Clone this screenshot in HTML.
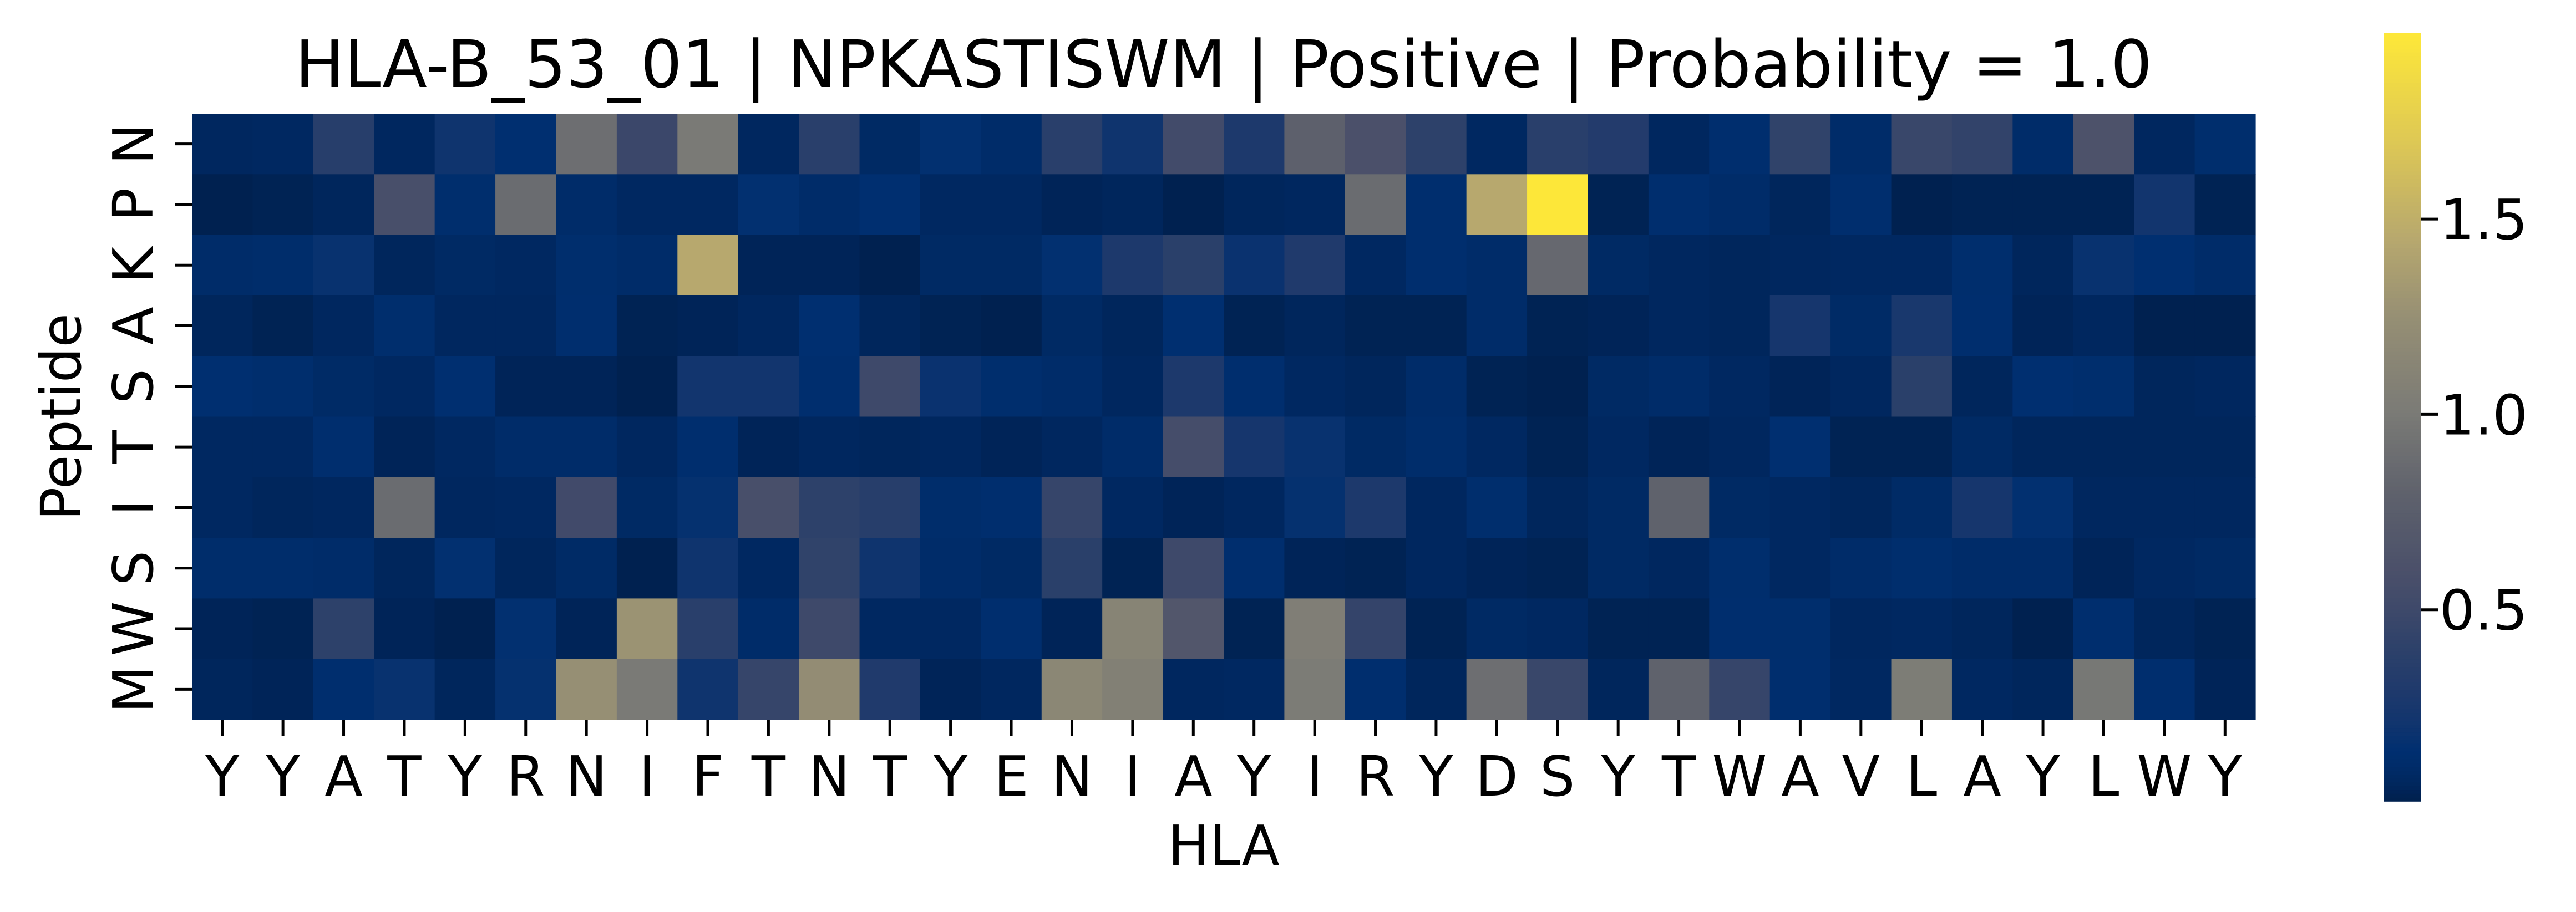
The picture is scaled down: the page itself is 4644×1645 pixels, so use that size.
<!DOCTYPE html>
<html><head><meta charset="utf-8"><style>
html,body{margin:0;padding:0;background:#fff;}
svg{display:block;font-family:"DejaVu Sans","Liberation Sans",sans-serif;}
</style></head><body>
<svg id="chart" width="4644" height="1645" viewBox="0 0 4644 1645" xmlns="http://www.w3.org/2000/svg">
<rect x="0" y="0" width="4644" height="1645" fill="#fff"/>
<text x="2206" y="157" font-size="118" text-anchor="middle" fill="#000">HLA-B_53_01 | NPKASTISWM | Positive | Probability = 1.0</text>
<text x="2206" y="1560" font-size="100" text-anchor="middle" fill="#000">HLA</text>
<text x="0" y="0" font-size="100" text-anchor="middle" fill="#000" transform="translate(145,752) rotate(-90)">Peptide</text>
<g id="cells"></g>
<g id="xticks"></g>
<g id="yticks"></g>
<g id="cbar"></g>
</svg>
<script>
const xLabels = ["Y","Y","A","T","Y","R","N","I","F","T","N","T","Y","E","N","I","A","Y","I","R","Y","D","S","Y","T","W","A","V","L","A","Y","L","W","Y"];
const yLabels = ["N","P","K","A","S","T","I","S","W","M"];
const cbTicks = [0.5, 1.0, 1.5];
const cbTickLabels = ["0.5", "1.0", "1.5"];
const rowN = [0.06,0.07,0.35,0.06,0.2,0.14,0.9,0.48,1.0,0.06,0.37,0.08,0.15,0.1,0.37,0.2,0.53,0.28,0.78,0.6,0.4,0.07,0.37,0.32,0.06,0.13,0.42,0.1,0.47,0.43,0.1,0.62,0.06,0.12];
const rowP = [0.02,0.03,0.05,0.58,0.12,0.88,0.1,0.07,0.07,0.15,0.1,0.14,0.07,0.07,0.04,0.05,0.02,0.05,0.06,0.88,0.13,1.45,1.97,0.03,0.13,0.1,0.05,0.13,0.02,0.03,0.03,0.03,0.22,0.03];
const rowK = [0.1,0.11,0.17,0.05,0.08,0.07,0.12,0.1,1.45,0.04,0.04,0.02,0.08,0.08,0.15,0.28,0.38,0.18,0.3,0.07,0.13,0.1,0.85,0.08,0.06,0.05,0.06,0.07,0.07,0.12,0.05,0.17,0.14,0.1];
const rowA = [0.05,0.03,0.06,0.12,0.06,0.06,0.13,0.03,0.04,0.06,0.14,0.05,0.03,0.02,0.08,0.05,0.14,0.03,0.05,0.03,0.03,0.1,0.03,0.04,0.06,0.05,0.24,0.09,0.26,0.13,0.04,0.06,0.02,0.02];
const rowS1 = [0.14,0.12,0.09,0.07,0.14,0.04,0.04,0.02,0.22,0.22,0.13,0.5,0.18,0.12,0.1,0.06,0.28,0.13,0.07,0.05,0.1,0.03,0.02,0.08,0.1,0.07,0.04,0.06,0.38,0.05,0.14,0.12,0.05,0.06];
const rowT = [0.07,0.07,0.13,0.04,0.07,0.1,0.1,0.06,0.13,0.04,0.06,0.05,0.06,0.04,0.06,0.1,0.55,0.24,0.17,0.08,0.11,0.07,0.03,0.07,0.04,0.06,0.14,0.03,0.03,0.08,0.05,0.05,0.05,0.05];
const rowI = [0.07,0.05,0.06,0.88,0.06,0.07,0.52,0.08,0.16,0.58,0.4,0.35,0.11,0.13,0.45,0.07,0.04,0.06,0.16,0.28,0.06,0.12,0.05,0.08,0.8,0.08,0.07,0.05,0.09,0.24,0.15,0.06,0.06,0.06];
const rowS2 = [0.11,0.11,0.1,0.05,0.15,0.05,0.09,0.02,0.2,0.07,0.42,0.2,0.1,0.08,0.38,0.03,0.5,0.13,0.04,0.03,0.06,0.04,0.03,0.08,0.06,0.12,0.07,0.1,0.12,0.1,0.1,0.04,0.07,0.08];
const rowW = [0.04,0.03,0.4,0.04,0.02,0.15,0.04,1.28,0.37,0.1,0.5,0.07,0.07,0.13,0.04,1.12,0.67,0.03,1.05,0.44,0.03,0.08,0.07,0.03,0.03,0.13,0.12,0.06,0.07,0.05,0.02,0.13,0.05,0.03];
const rowM = [0.05,0.04,0.13,0.17,0.05,0.16,1.25,1.0,0.2,0.45,1.22,0.3,0.04,0.06,1.15,1.07,0.06,0.07,1.02,0.13,0.05,0.9,0.47,0.05,0.8,0.45,0.13,0.07,1.03,0.07,0.05,0.98,0.13,0.04];
const values = [rowN,rowP,rowK,rowA,rowS1,rowT,rowI,rowS2,rowW,rowM];
const vmin = 0.01, vmax = 1.977;

const NS = "http://www.w3.org/2000/svg";
const plot = {x0:346, x1:4066, y0:205, y1:1298};
const cw = (plot.x1-plot.x0)/xLabels.length, ch = (plot.y1-plot.y0)/yLabels.length;
const xPos = i => plot.x0 + i*cw;
const yPos = j => plot.y0 + j*ch;
const cb = {x:4297, w:68, top:59, bot:1445};
const cbY = v => cb.bot - (v - vmin)/(vmax - vmin)*(cb.bot - cb.top);

const stops = [[0.0,[0,32,76]],[0.02,[0,33,80]],[0.05,[0,38,92]],[0.1,[0,44,105]],[0.14,[0,47,112]],[0.2,[15,52,110]],[0.3,[32,58,108]],[0.4,[45,65,106]],[0.5,[62,73,106]],[0.6,[75,80,106]],[0.8,[95,98,108]],[1.0,[122,122,118]],[1.25,[150,143,116]],[1.45,[183,168,110]],[1.7,[222,200,85]],[1.98,[254,232,56]]];
function color(v){
  if(v<=stops[0][0]) return "rgb("+stops[0][1].join(",")+")";
  for(let k=1;k<stops.length;k++){
    if(v<=stops[k][0]){
      const a=stops[k-1], b=stops[k], t=(v-a[0])/(b[0]-a[0]);
      return "rgb("+a[1].map((c,i)=>Math.round(c+(b[1][i]-c)*t)).join(",")+")";
    }
  }
  return "rgb("+stops[stops.length-1][1].join(",")+")";
}
function mk(tag, attrs, parent){
  const e=document.createElementNS(NS,tag);
  for(const k in attrs) e.setAttribute(k, attrs[k]);
  parent.appendChild(e); return e;
}
const gCells=document.getElementById("cells");
values.forEach((row,j)=>row.forEach((v,i)=>{
  const r=mk("rect",{x:xPos(i),y:yPos(j),width:cw+0.6,height:ch+0.6,fill:color(v)},gCells);
  
  
}));
const gx=document.getElementById("xticks");
xLabels.forEach((l,i)=>{
  const cx=xPos(i)+cw/2;
  const t=mk("line",{x1:cx,x2:cx,y1:plot.y1,y2:plot.y1+30,stroke:"#000","stroke-width":5},gx);
  
  
  const tx=mk("text",{x:cx,y:1435,"font-size":100,"text-anchor":"middle",fill:"#000"},gx);
  tx.textContent=l;
  
  
});
const gy=document.getElementById("yticks");
yLabels.forEach((l,j)=>{
  const cy=yPos(j)+ch/2;
  const t=mk("line",{x1:plot.x0-30,x2:plot.x0,y1:cy,y2:cy,stroke:"#000","stroke-width":5},gy);
  
  
  const tx=mk("text",{x:0,y:0,"font-size":100,"text-anchor":"middle",fill:"#000",transform:"translate(275,"+cy+") rotate(-90)"},gy);
  tx.textContent=l;
  
  
});
const gcb=document.getElementById("cbar");
const N=200;
for(let k=0;k<N;k++){
  const v0=vmin+(vmax-vmin)*k/N, v1=vmin+(vmax-vmin)*(k+1)/N;
  const y=cbY(v1);
  const r=mk("rect",{x:cb.x,y:y,width:cb.w,height:cbY(v0)-y+0.8,fill:color((v0+v1)/2)},gcb);
  
  
}
cbTicks.forEach((v,k)=>{
  const y=cbY(v);
  const t=mk("line",{x1:cb.x+cb.w,x2:cb.x+cb.w+30,y1:y,y2:y,stroke:"#000","stroke-width":5},gcb);
  
  
  const tx=mk("text",{x:4398,y:y+36,"font-size":100,fill:"#000"},gcb);
  tx.textContent=cbTickLabels[k];
  
  
});
</script>
</body></html>
